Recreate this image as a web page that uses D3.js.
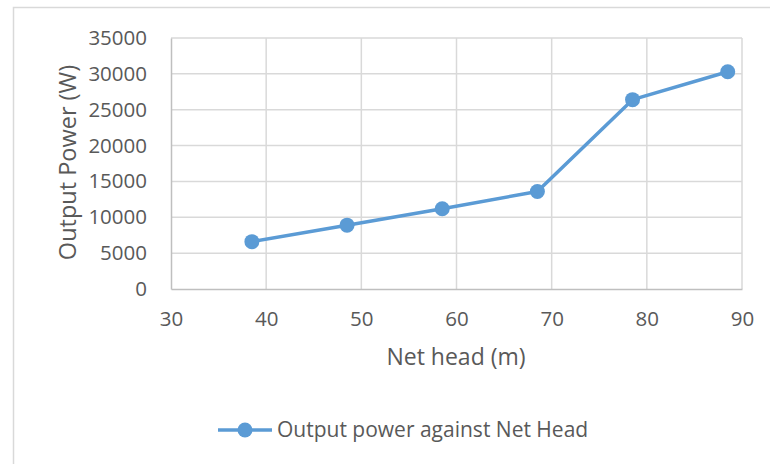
<!DOCTYPE html>
<html>
<head>
<meta charset="utf-8">
<script src="https://cdn.jsdelivr.net/npm/d3@7"></script>
<style>
  html, body { margin: 0; padding: 0; background: #fff; }
  svg { display: block; }
  text { font-family: "Open Sans", "Liberation Sans", sans-serif; fill: #595959; }
</style>
</head>
<body>
<script>
// Net head (m) and the measured output power (W)
const netHead = [38.5, 48.5, 58.5, 68.5, 78.5, 88.5];
const outputPower = [6600, 8900, 11200, 13600, 26400, 30300];
const xTicks = [30, 40, 50, 60, 70, 80, 90];
const yTicks = [0, 5000, 10000, 15000, 20000, 25000, 30000, 35000];
const seriesName = "Output power against Net Head";

const W = 770, H = 464;
const plot = { left: 171, right: 742, top: 38, bottom: 289 };
const blue = "#5b9bd5";

const svg = d3.select("body").append("svg").attr("width", W).attr("height", H);

// chart frame
svg.append("rect")
  .attr("x", 13.5).attr("y", 7.5)
  .attr("width", W + 10).attr("height", H + 10)
  .attr("fill", "#fff").attr("stroke", "#d9d9d9").attr("stroke-width", 1.5);

const x = d3.scaleLinear().domain([30, 90]).range([plot.left, plot.right]);
const y = d3.scaleLinear().domain([0, 35000]).range([plot.bottom, plot.top]);

// gridlines
const grid = svg.append("g").attr("stroke", "#d9d9d9").attr("stroke-width", 1.5);
grid.selectAll(".hg").data(yTicks.filter(d => d > 0)).join("line")
  .attr("x1", plot.left).attr("x2", plot.right)
  .attr("y1", d => y(d)).attr("y2", d => y(d));
grid.selectAll(".vg").data(xTicks.filter(d => d > 30)).join("line")
  .attr("y1", plot.top).attr("y2", plot.bottom)
  .attr("x1", d => x(d)).attr("x2", d => x(d));

// axes
const xAxis = svg.append("g").attr("transform", `translate(0,${plot.bottom})`)
  .call(d3.axisBottom(x).tickValues(xTicks).tickSize(0).tickPadding(22));
const yAxis = svg.append("g").attr("transform", `translate(${plot.left},0)`)
  .call(d3.axisLeft(y).tickValues(yTicks).tickSize(0).tickPadding(24).tickFormat(d3.format("d")));
[xAxis, yAxis].forEach(a => {
  a.select(".domain").attr("stroke", "#bfbfbf").attr("stroke-width", 1.5);
  a.selectAll("text").style("font-size", "20.5px").attr("fill", "#595959");
});

// axis titles
svg.append("text")
  .attr("x", 456).attr("y", 365)
  .attr("text-anchor", "middle").style("font-size", "23px")
  .text("Net head (m)");
svg.append("text")
  .attr("transform", `translate(76,162.5) rotate(-90)`)
  .attr("text-anchor", "middle").style("font-size", "23.5px")
  .text("Output Power (W)");

// series
const pts = netHead.map((h, i) => [h, outputPower[i]]);
svg.append("path")
  .datum(pts)
  .attr("fill", "none").attr("stroke", blue).attr("stroke-width", 3.5)
  .attr("stroke-linejoin", "round")
  .attr("d", d3.line().x(d => x(d[0])).y(d => y(d[1])));
svg.selectAll(".pt").data(pts).join("circle")
  .attr("cx", d => x(d[0])).attr("cy", d => y(d[1])).attr("r", 7.5)
  .attr("fill", blue);

// legend
const lg = svg.append("g");
lg.append("line").attr("x1", 218).attr("x2", 272).attr("y1", 430).attr("y2", 430)
  .attr("stroke", blue).attr("stroke-width", 3.5);
lg.append("circle").attr("cx", 245).attr("cy", 430).attr("r", 7.5).attr("fill", blue);
lg.append("text").attr("x", 277).attr("y", 437).style("font-size", "21px").text(seriesName);
</script>
</body>
</html>
